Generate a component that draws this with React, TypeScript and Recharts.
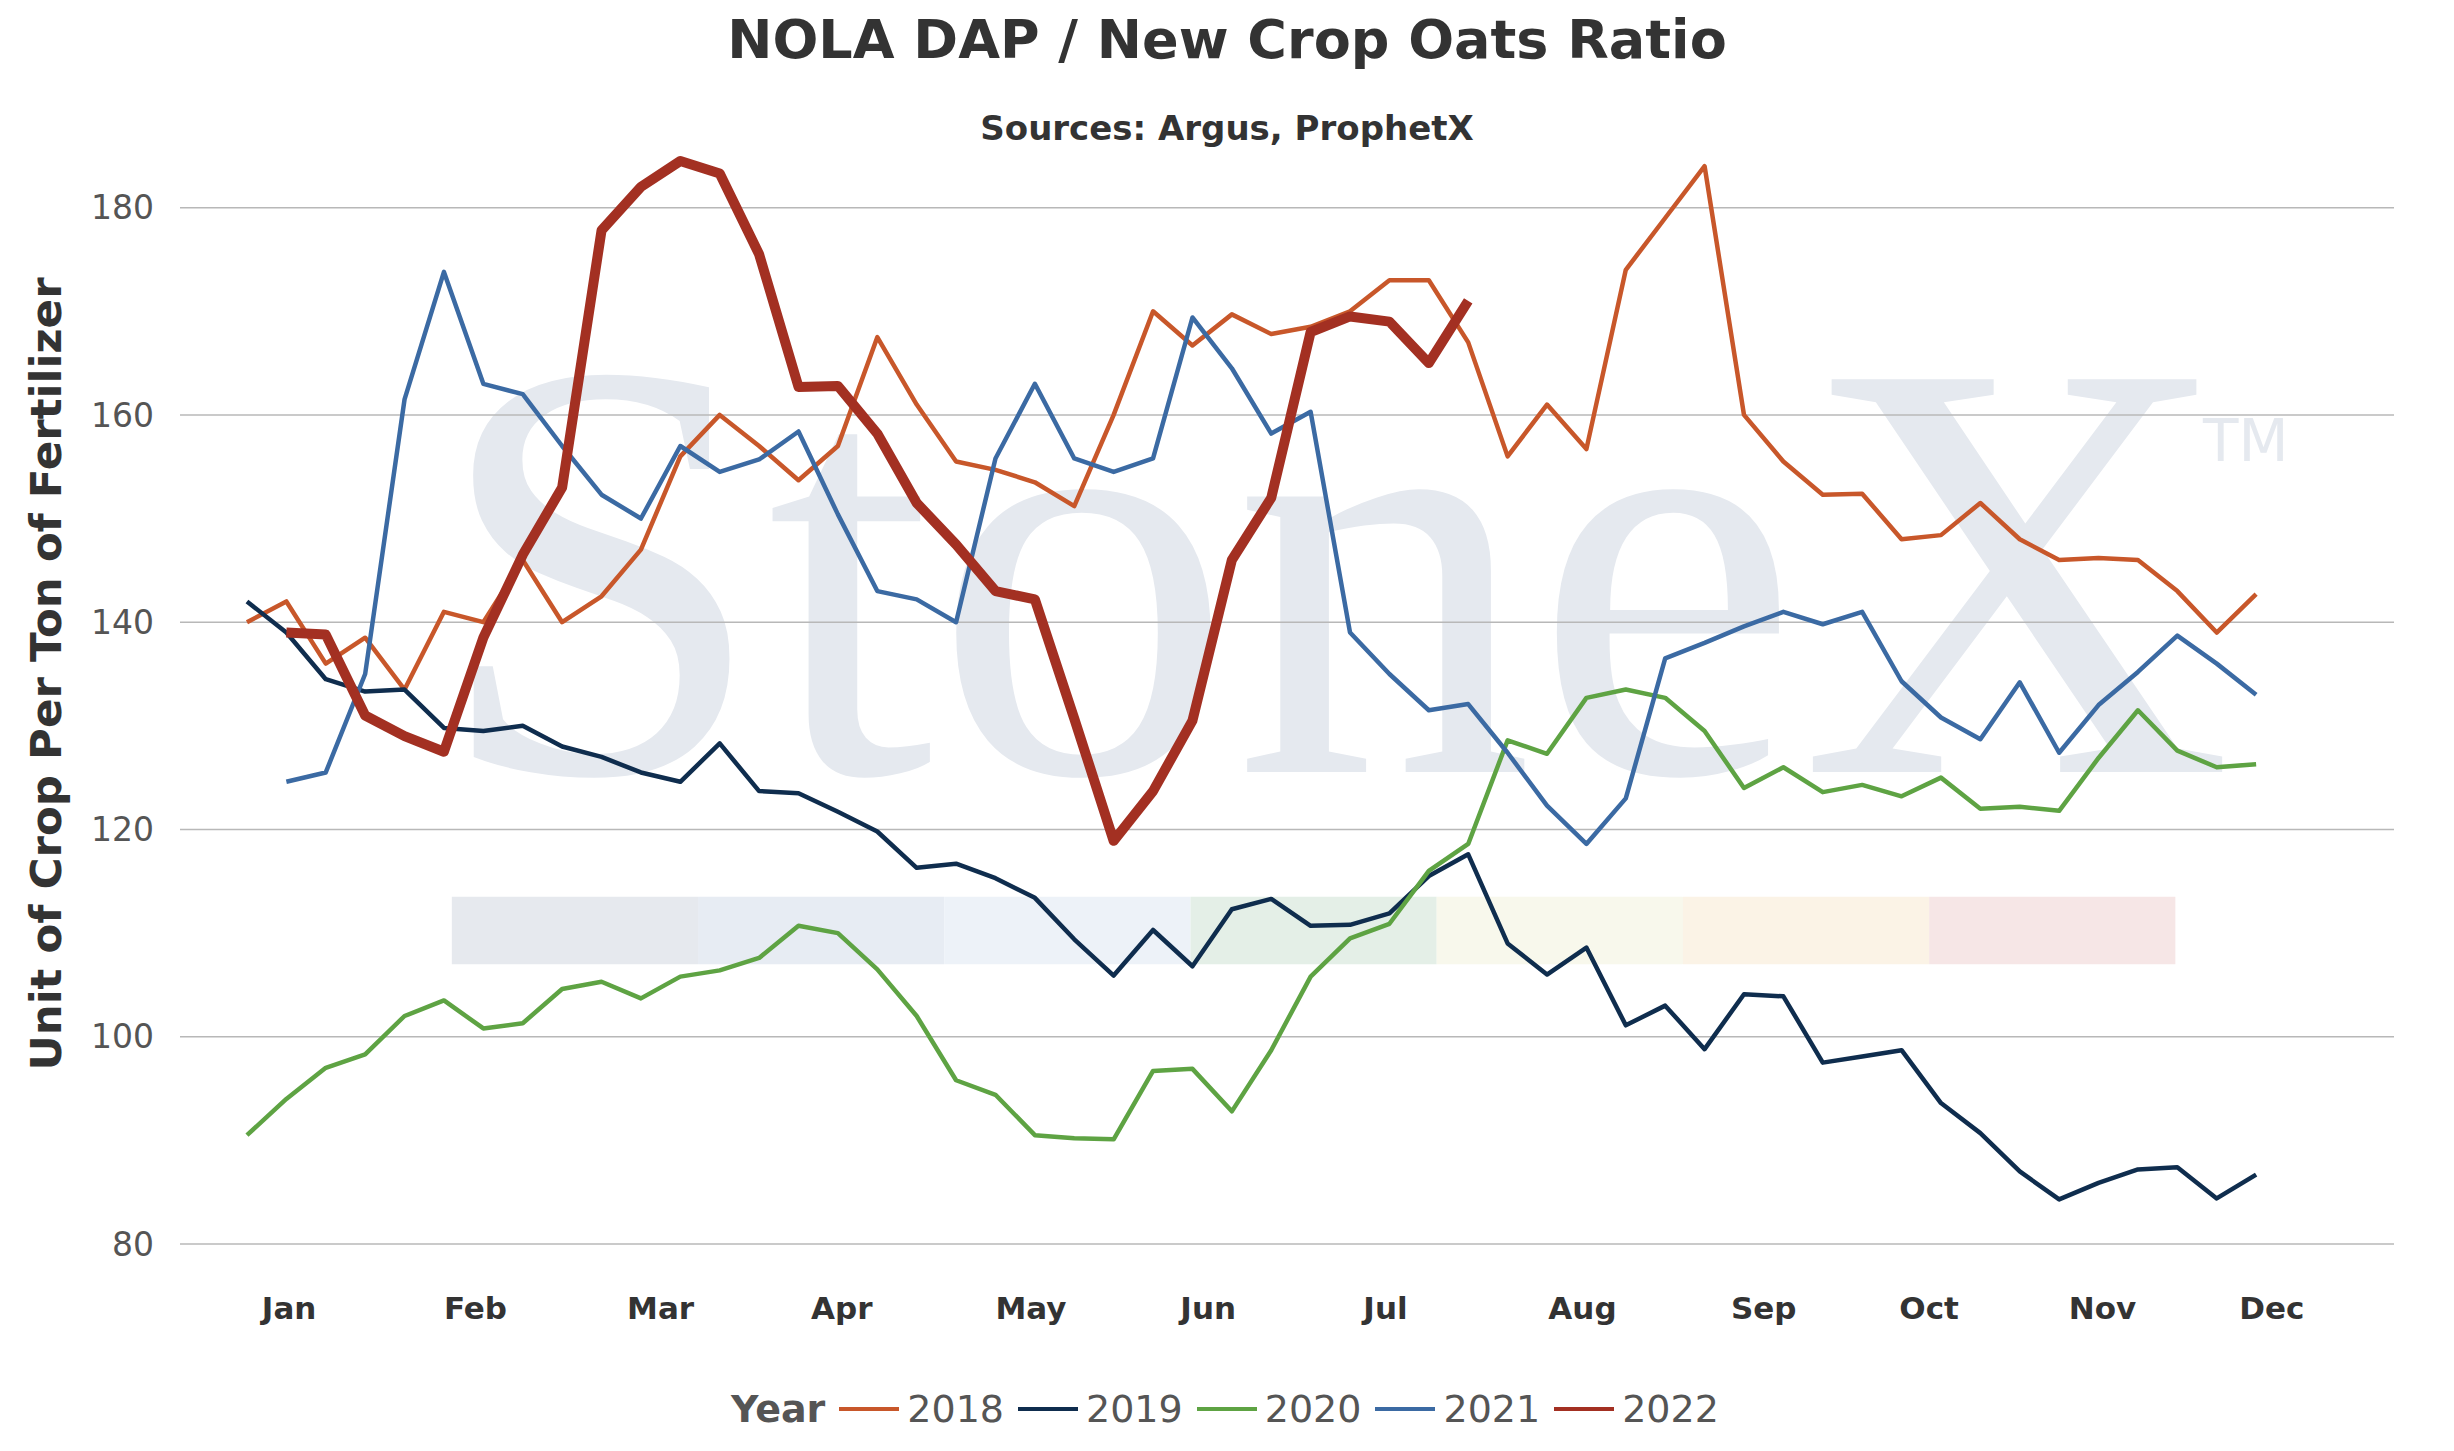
import React from 'react';
import { LineChart, Line, XAxis, YAxis, CartesianGrid, ReferenceArea, Legend } from 'recharts';

const weeks = Array.from({ length: 52 }, (_, i) => i);
const s2018 = [140,142,136,138.5,133.5,141,140,146,140,142.5,147,156,160,157,153.7,157,167.5,161,155.5,154.7,153.5,151.2,160,170,166.7,169.7,167.8,168.5,170,173,173,167,156,161,156.7,174,179,184,160,155.5,152.3,152.4,148,148.4,151.5,148,146,146.2,146,143,139,142.7];
const s2019 = [142,139,134.5,133.3,133.5,129.8,129.5,130,128,127,125.5,124.6,128.3,123.7,123.5,121.7,119.8,116.3,116.7,115.3,113.4,109.4,105.9,110.3,106.8,112.3,113.3,110.7,110.8,111.9,115.5,117.6,109,106,108.6,101.1,103,98.8,104.1,103.9,97.5,98.1,98.7,93.6,90.7,87,84.3,85.9,87.2,87.4,84.4,86.7];
const s2020 = [90.5,94,97,98.3,102,103.5,100.8,101.3,104.6,105.3,103.7,105.8,106.4,107.6,110.7,110,106.5,102,95.8,94.4,90.5,90.2,90.1,96.7,96.9,92.8,98.7,105.8,109.5,110.9,116,118.6,128.6,127.3,132.7,133.5,132.7,129.5,124,126,123.6,124.3,123.2,125,122,122.2,121.8,126.9,131.5,127.6,126,126.3];
const s2021 = [null,124.6,125.5,135,161.5,173.8,163,162,157,152.3,150,157,154.5,155.7,158.4,150.4,143,142.2,140,155.8,163,155.8,154.5,155.8,169.4,164.5,158.2,160.3,139,135,131.5,132.1,127.4,122.3,118.6,123,136.5,138,139.6,141,139.8,141,134.3,130.8,128.7,134.2,127.4,132,135.2,138.7,136,133];
const s2022 = [null,139,138.8,131,129,127.5,138.5,146.5,153,177.8,182,184.5,183.3,175.5,162.7,162.8,158.2,151.5,147.5,143,142.2,130.7,118.9,123.7,130.5,146,152,168,169.5,169,165,171];
const monthLabels = ['Jan','Feb','Mar','Apr','May','Jun','Jul','Aug','Sep','Oct','Nov','Dec'];
const monthPos = [1.07,5.8,10.5,15.1,19.9,24.4,28.9,33.9,38.5,42.7,47.1,51.4];
const yTicks = [80,100,120,140,160,180];
const bandColors = ['#e6e9ee','#e7ecf3','#edf2f8','#e4efe7','#f8f8ec','#fbf3e6','#f6e6e6'];
const bandStarts = [5.2,11.45,17.7,23.95,30.2,36.45,42.7];

const seriesDefs = [
  { key: 'y2018', name: '2018', color: '#c8572a', data: s2018, w: 4.5 },
  { key: 'y2019', name: '2019', color: '#0f2d4e', data: s2019, w: 4.5 },
  { key: 'y2020', name: '2020', color: '#5ea343', data: s2020, w: 4.5 },
  { key: 'y2021', name: '2021', color: '#3b6aa3', data: s2021, w: 4.5 },
  { key: 'y2022', name: '2022', color: '#a33022', data: s2022, w: 10 },
];

const data = weeks.map((w) => {
  const row: any = { w };
  seriesDefs.forEach((s) => { row[s.key] = s.data[w] ?? null; });
  return row;
});

const font = '"DejaVu Sans", Verdana, sans-serif';

const LegendContent = () => (
  <div style={{ display: 'flex', justifyContent: 'center', alignItems: 'center', fontFamily: font, fontSize: 38, color: '#555', height: 44 }}>
    <span style={{ fontWeight: 'bold', marginRight: 14 }}>Year</span>
    {seriesDefs.map((s) => (
      <span key={s.key} style={{ display: 'flex', alignItems: 'center', marginRight: 14 }}>
        <svg width={60} height={10}><line x1={0} y1={5} x2={60} y2={5} stroke={s.color} strokeWidth={4} /></svg>
        <span style={{ marginLeft: 8 }}>{s.name}</span>
      </span>
    ))}
  </div>
);

export default function App() {
  return (
    <div style={{ position: 'relative', width: 2438, height: 1435, background: '#fff', fontFamily: font }}>
      <div style={{ position: 'absolute', left: 0, right: 0, top: 0, textAlign: 'center', fontWeight: 'bold', fontSize: 54, color: '#333' }}>NOLA DAP / New Crop Oats Ratio</div>
      <div style={{ position: 'absolute', left: 0, right: 0, top: 100, textAlign: 'center', fontWeight: 'bold', fontSize: 34, color: '#333' }}>Sources: Argus, ProphetX</div>
      <div style={{ position: 'absolute', left: 425, top: 262, fontFamily: '"Liberation Serif", serif', fontSize: 600, lineHeight: 1, color: '#e5e9ef', whiteSpace: 'nowrap' }}>
        StoneX<span style={{ fontFamily: font, fontSize: 58, verticalAlign: 'top', position: 'relative', top: 142, marginLeft: -30 }}>TM</span>
      </div>
      <div style={{ position: 'absolute', left: 20, top: 666, transform: 'translate(-50%,-50%) rotate(-90deg)', transformOrigin: 'center', marginLeft: 18, fontWeight: 'bold', fontSize: 43.5, color: '#333', whiteSpace: 'nowrap' }}>Unit of Crop Per Ton of Fertilizer</div>
      <div style={{ position: 'absolute', left: 0, top: 0 }}>
        <LineChart width={2438} height={1435} data={data} margin={{ top: 96, right: 52, left: 62, bottom: 65 }}>
          <CartesianGrid horizontal vertical={false} stroke="#b8b8b8" strokeWidth={1.5} horizontalValues={yTicks} />
          {bandStarts.map((b, i) => (
            <ReferenceArea key={i} x1={b} x2={b + 6.25} y1={107} y2={113.5} fill={bandColors[i]} fillOpacity={1} stroke="none" ifOverflow="visible" />
          ))}
          <XAxis dataKey="w" type="number" domain={[-1.7, 54.5]} allowDataOverflow ticks={monthPos} tickFormatter={(v: number) => monthLabels[monthPos.indexOf(v)]} axisLine={false} tickLine={false} tick={{ fontSize: 31, fontWeight: 'bold', fill: '#333', fontFamily: font }} tickMargin={47} height={90} />
          <YAxis type="number" domain={[80, 190]} ticks={yTicks} axisLine={false} tickLine={false} width={110} tick={{ fontSize: 33, fill: '#555', fontFamily: font }} tickMargin={20} />
          <Legend verticalAlign="bottom" content={<LegendContent />} wrapperStyle={{ bottom: 12 }} />
          {seriesDefs.map((s) => (
            <Line key={s.key} dataKey={s.key} name={s.name} stroke={s.color} strokeWidth={s.w} dot={false} isAnimationActive={false} connectNulls={false} strokeLinejoin="round" />
          ))}
        </LineChart>
      </div>
    </div>
  );
}
